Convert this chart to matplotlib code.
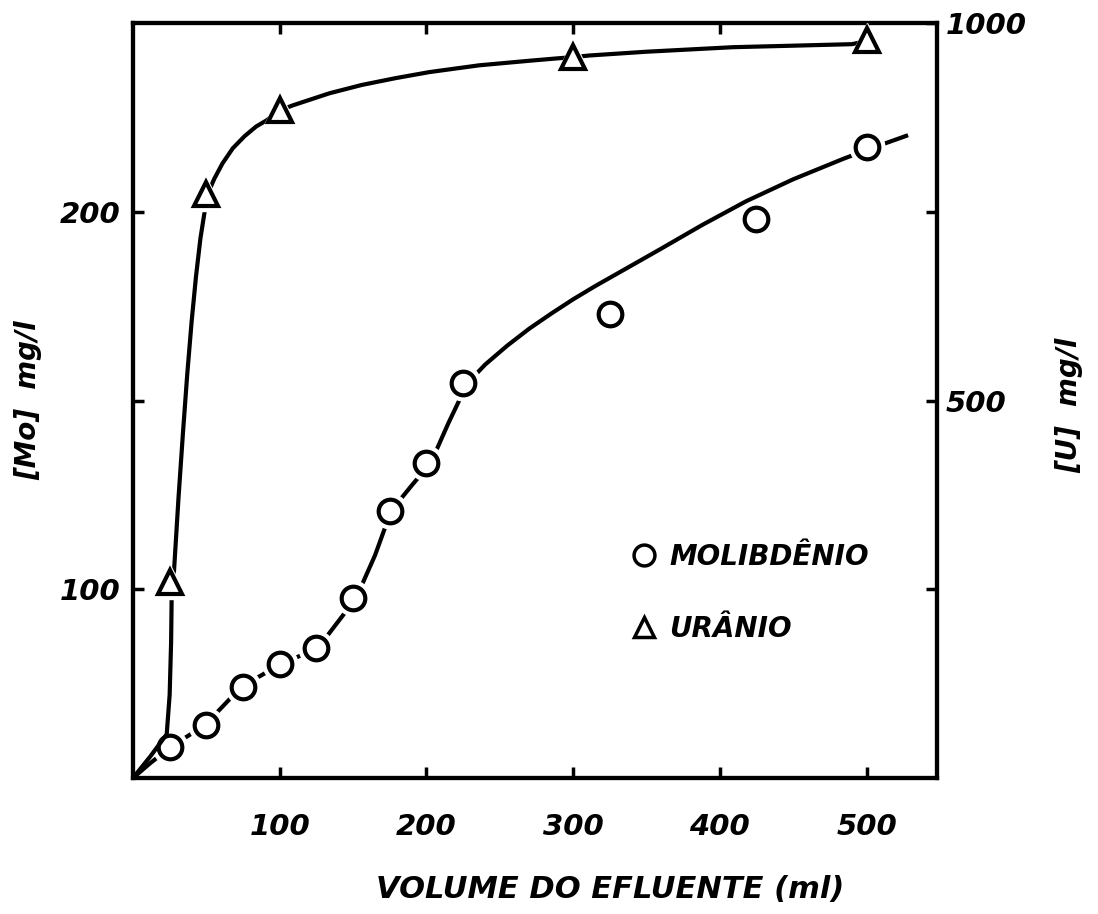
"""Breakthrough curves of Mo and U vs effluent volume (recreated figure)."""

import matplotlib.pyplot as plt
from matplotlib.lines import Line2D

# ── data ──
vol_mo = [25, 50, 75, 100, 125, 150, 175, 200, 225, 325, 425, 500]
mo = [58.3, 64.0, 74.2, 80.2, 84.4, 97.6, 120.8, 133.5, 154.6, 172.8, 198.1, 217.2]

vol_u = [25, 50, 100, 300, 500]
u = [260, 774, 885, 955, 978]

# hand-drawn fit curves (traced points)
curve_mo_x = [0, 12, 26, 49, 74, 101, 126, 152, 165, 176, 190, 203, 215, 228,
              240, 255, 270, 285, 300, 315, 330, 359, 388, 418, 450, 484, 501, 527]
curve_mo_y = [50, 54, 58.3, 64, 74.2, 80.2, 84.4, 97.6, 109, 120.8, 127.5, 133.5, 144, 154.6,
              159.5, 164.5, 169, 173, 176.8, 180.3, 183.6, 190, 196.5, 202.8, 208.6, 214.0,
              216.5, 220.1]

curve_u_x = [0, 12, 23, 25, 26, 26.5, 28, 31, 34, 37, 40, 43, 46, 49, 51,
             55.5, 61, 68, 76, 84, 91, 101, 109, 134, 156, 179, 202, 236, 270,
             288, 301, 311, 350, 409, 450, 490, 500]
curve_u_y = [0, 29, 58, 110, 180, 260, 275, 370, 455, 535, 605, 665, 715, 752, 774,
             794, 814, 834, 850, 863, 871, 885, 891, 907, 918, 927, 935, 944, 950,
             953, 955, 957, 962, 968, 970, 972, 976]

mo_ticks = [100, 150, 200]
mo_ticklabels = ["100", "", "200"]
u_ticks = [250, 500, 750, 1000]
u_ticklabels = ["", "500", "", "1000"]
x_ticks = [100, 200, 300, 400, 500]

FONT = dict(fontweight="bold", fontstyle="italic", family="DejaVu Sans")

fig = plt.figure(figsize=(10.98, 9.14), dpi=100)
ax = fig.add_axes([0.1211, 0.1488, 0.7322, 0.826])
ax2 = ax.twinx()

LW = 3.0
MS = 17

# Mo curve + circles (white halo gives the gap in the line)
ax.plot(curve_mo_x, curve_mo_y, "k-", lw=LW, zorder=2)
ax.plot(vol_mo, mo, "o", ms=MS + 8, mfc="white", mec="white", zorder=3)
ax.plot(vol_mo, mo, "o", ms=MS, mfc="white", mec="black", mew=LW, zorder=4)

# U curve + triangles
ax2.plot(curve_u_x, curve_u_y, "k-", lw=LW, zorder=2)
ax2.plot(vol_u, u, "^", ms=MS + 8, mfc="white", mec="white", zorder=3)
ax2.plot(vol_u, u, "^", ms=MS, mfc="white", mec="black", mew=LW, zorder=4)

ax.set_xlim(0, 548)
ax.set_ylim(50, 250)
ax2.set_ylim(0, 1000)

ax.set_xticks(x_ticks)
ax.set_xticklabels([str(t) for t in x_ticks], **FONT, fontsize=21)
ax.set_yticks(mo_ticks)
ax.set_yticklabels(mo_ticklabels, **FONT, fontsize=21)
ax2.set_yticks(u_ticks)
ax2.set_yticklabels(u_ticklabels, **FONT, fontsize=21)

ax.tick_params(axis="x", direction="in", length=8, width=2.5, pad=25, top=True)
ax.tick_params(axis="y", direction="in", length=8, width=2.5, pad=9)
ax2.tick_params(axis="y", direction="in", length=8, width=2.5, pad=6)

for a in (ax, ax2):
    for s in a.spines.values():
        s.set_linewidth(LW)

ax.set_xlabel("VOLUME DO EFLUENTE (ml)", **FONT, fontsize=22)
ax.xaxis.set_label_coords(0.593, -0.128)
ax.set_ylabel("[Mo]  mg/l", **FONT, fontsize=20)
ax.yaxis.set_label_coords(-0.113, 0.5)
ax2.set_ylabel("[U]  mg/l", **FONT, fontsize=20, rotation=90)
ax2.yaxis.set_label_coords(1.147, 0.494)

handles = [
    Line2D([], [], ls="none", marker="o", ms=15, mfc="white", mec="black", mew=2.5),
    Line2D([], [], ls="none", marker="^", ms=15, mfc="white", mec="black", mew=2.5),
]
leg = ax2.legend(handles, ["MOLIBDÊNIO", "URÂNIO"], loc="upper left",
                 bbox_to_anchor=(0.605, 0.33), frameon=False, handlelength=0.8,
                 handletextpad=0.5, labelspacing=1.6, borderpad=0,
                 prop=dict(weight="bold", style="italic", size=20, family="DejaVu Sans"))

fig.savefig("out.png", dpi=100)
